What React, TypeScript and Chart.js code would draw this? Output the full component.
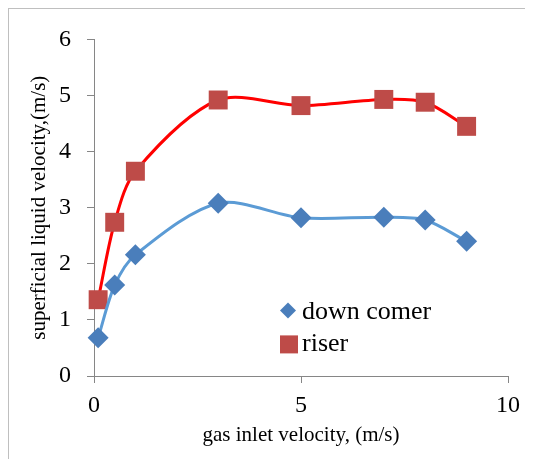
import React, { useEffect, useRef } from "react";
import { Chart, registerables } from "chart.js";

Chart.register(...registerables);

// ---- data ----
const gasInletVelocity = [0.1, 0.5, 1, 3, 5, 7, 8, 9];
const downComer = [0.68, 1.62, 2.16, 3.08, 2.82, 2.83, 2.78, 2.4];
const riser = [1.36, 2.74, 3.65, 4.92, 4.82, 4.93, 4.88, 4.45];
const seriesNames = ["down comer", "riser"];
const xAxisTitle = "gas inlet velocity, (m/s)";
const yAxisTitle = "superficial liquid velocity,(m/s)";
const xRange = [0, 10];
const yRange = [0, 6];
const xStep = 5;
const yStep = 1;

const FONT = "'Liberation Serif', 'Times New Roman', serif";
const AXIS_GRAY = "#868686";

const insideLegend = {
  id: "insideLegend",
  afterDraw(chart: any) {
    const { ctx, chartArea } = chart;
    const ds = chart.data.datasets;
    ctx.save();
    ctx.font = `26px ${FONT}`;
    ctx.fillStyle = "#000";
    ctx.textAlign = "left";
    ctx.textBaseline = "alphabetic";
    // diamond entry
    const dx = chartArea.left + 194;
    const dy = chartArea.top + 271;
    const r = 8;
    ctx.beginPath();
    ctx.moveTo(dx - r, dy);
    ctx.lineTo(dx, dy - r);
    ctx.lineTo(dx + r, dy);
    ctx.lineTo(dx, dy + r);
    ctx.closePath();
    ctx.fillStyle = ds[0].pointBackgroundColor;
    ctx.fill();
    ctx.fillStyle = "#000";
    ctx.fillText(ds[0].label, chartArea.left + 208, chartArea.top + 280);
    // square entry
    const sx = chartArea.left + 195;
    const sy = chartArea.top + 305;
    const h = 9;
    ctx.fillStyle = ds[1].pointBackgroundColor;
    ctx.fillRect(sx - h, sy - h, 2 * h, 2 * h);
    ctx.fillStyle = "#000";
    ctx.fillText(ds[1].label, chartArea.left + 208, chartArea.top + 312);
    ctx.restore();
  },
};

export default function App() {
  const ref = useRef<HTMLCanvasElement | null>(null);

  useEffect(() => {
    if (!ref.current) return;
    const chart = new Chart(ref.current, {
      type: "line",
      data: {
        datasets: [
          {
            label: seriesNames[0],
            data: gasInletVelocity.map((x, i) => ({ x, y: downComer[i] })),
            borderColor: "#5B9BD5",
            borderWidth: 3,
            pointStyle: "rectRot",
            pointRadius: 10.5,
            pointBackgroundColor: "#4A7EBB",
            pointBorderColor: "#4A7EBB",
            pointBorderWidth: 0,
            tension: 0.3,
            clip: false as any,
          },
          {
            label: seriesNames[1],
            data: gasInletVelocity.map((x, i) => ({ x, y: riser[i] })),
            borderColor: "#FF0000",
            borderWidth: 3,
            pointStyle: "rect",
            pointRadius: 13.4,
            pointBackgroundColor: "#BE4B48",
            pointBorderColor: "#BE4B48",
            pointBorderWidth: 0,
            tension: 0.3,
            clip: false as any,
          },
        ],
      },
      options: {
        responsive: false,
        animation: false,
        layout: { padding: { top: 19, right: 23, left: 0, bottom: 0 } },
        plugins: { legend: { display: false }, tooltip: { enabled: false } },
        scales: {
          x: {
            type: "linear",
            min: xRange[0],
            max: xRange[1],
            afterFit: (s: any) => {
              s.height = 85;
            },
            ticks: {
              stepSize: xStep,
              color: "#000",
              font: { family: FONT, size: 24 },
              padding: 8,
            },
            grid: {
              drawOnChartArea: false,
              drawTicks: true,
              tickLength: 7,
              color: AXIS_GRAY,
            },
            border: { color: AXIS_GRAY, width: 1 },
            title: {
              display: true,
              text: xAxisTitle,
              color: "#000",
              font: { family: FONT, size: 21 },
              padding: { top: 0, bottom: 13 },
            },
          },
          y: {
            min: yRange[0],
            max: yRange[1],
            afterFit: (s: any) => {
              s.width = 85;
            },
            ticks: {
              stepSize: yStep,
              color: "#000",
              font: { family: FONT, size: 24 },
              padding: 16,
            },
            grid: {
              drawOnChartArea: false,
              drawTicks: true,
              tickLength: 7,
              color: AXIS_GRAY,
            },
            border: { color: AXIS_GRAY, width: 1 },
            title: {
              display: true,
              text: yAxisTitle,
              color: "#000",
              font: { family: FONT, size: 21 },
              padding: { top: 18, bottom: 0 },
            },
          },
        },
      },
      plugins: [insideLegend],
    });
    return () => chart.destroy();
  }, []);

  return (
    <div
      style={{
        width: 522,
        height: 452,
        border: "1px solid #bfbfbf",
        background: "#fff",
      }}
    >
      <canvas ref={ref} width={522} height={452} style={{ display: "block" }} />
    </div>
  );
}
